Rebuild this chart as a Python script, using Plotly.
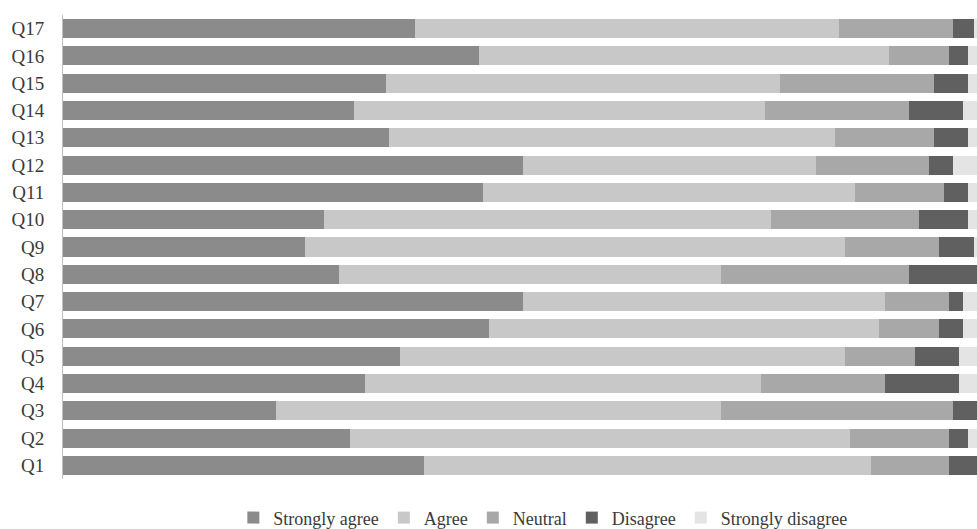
import plotly.graph_objects as go

questions = [f"Q{i}" for i in range(1, 18)]

strongly_agree = [39.5, 31.4, 23.3, 33.0, 36.9, 46.6, 50.3, 30.2, 26.5, 28.6, 46.0, 50.3, 35.7, 31.8, 35.3, 45.5, 38.5]
agree =          [48.9, 54.7, 48.7, 43.4, 48.7, 42.7, 39.6, 41.8, 59.1, 48.9, 40.7, 32.1, 48.8, 45.0, 43.1, 44.9, 46.4]
neutral =        [8.5, 10.8, 25.4, 13.5, 7.6, 6.5, 7.0, 20.6, 10.2, 16.2, 9.7, 12.4, 10.8, 15.8, 16.9, 6.5, 12.5]
disagree =       [3.1, 2.1, 2.6, 8.1, 4.8, 2.7, 1.6, 7.4, 3.9, 5.3, 2.6, 2.6, 3.7, 5.9, 3.7, 2.1, 2.3]
strongly_disagree = [0.0, 1.0, 0.0, 2.0, 2.0, 1.5, 1.5, 0.0, 0.3, 1.0, 1.0, 2.6, 1.0, 1.5, 1.0, 1.0, 0.3]

series = [
    ("Strongly agree", strongly_agree, "#8b8b8b"),
    ("Agree", agree, "#c8c8c8"),
    ("Neutral", neutral, "#a8a8a8"),
    ("Disagree", disagree, "#606060"),
    ("Strongly disagree", strongly_disagree, "#e4e4e4"),
]

fig = go.Figure()
for name, vals, color in series:
    fig.add_trace(go.Bar(
        y=questions, x=vals, name=name, orientation="h",
        marker=dict(color=color, line=dict(width=0)),
    ))

fig.update_layout(
    barmode="stack",
    bargap=0.3,
    width=977, height=529,
    margin=dict(l=63, r=0, t=15, b=50),
    plot_bgcolor="white", paper_bgcolor="white",
    font=dict(family="Liberation Serif", size=19, color="#3a3a3a"),
    showlegend=True,
    legend=dict(
        orientation="h", xanchor="center", yanchor="middle",
        x=0.525, yref="container", y=0.021, traceorder="normal",
        font=dict(size=18, color="#3a3a3a"),
        itemwidth=30,
    ),
    xaxis=dict(range=[0, 100], showticklabels=False, showgrid=False,
               zeroline=False, showline=False, fixedrange=True),
    yaxis=dict(showline=True, linecolor="#c0c0c0", linewidth=1,
               showgrid=False, ticks="", ticklabelstandoff=14, automargin=False,
               categoryorder="array", categoryarray=questions),
)

fig.write_html("out.html", config={"displayModeBar": False},
               post_script="document.body.style.margin='0';")
